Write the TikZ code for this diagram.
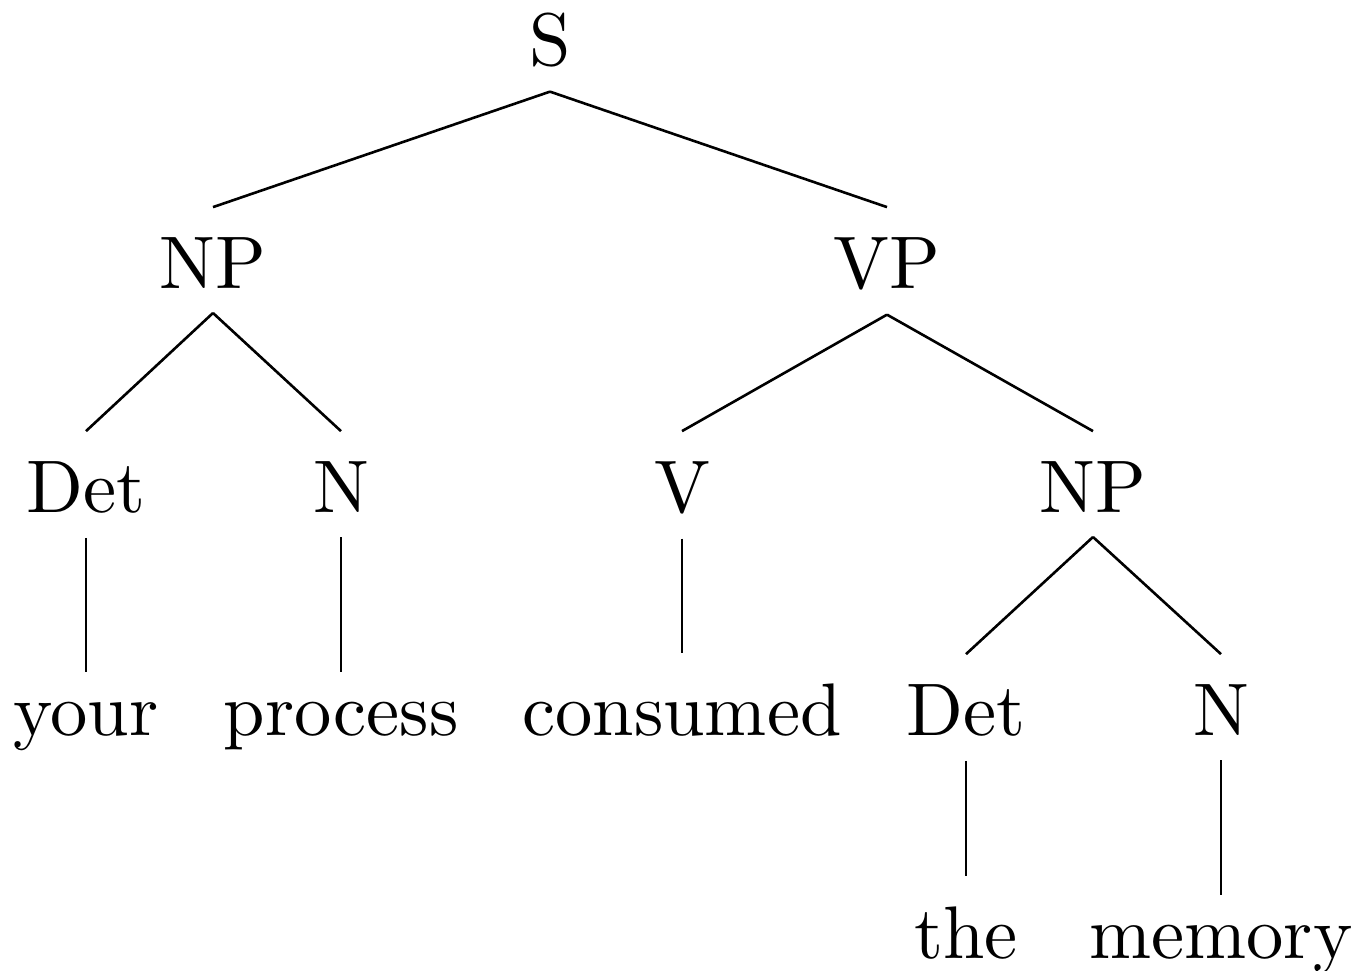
\documentclass[tikz,border=0pt]{standalone}
\usepackage{fontspec}
\newfontfamily\lmten{lmroman10-regular.otf}
\begin{document}
\begin{tikzpicture}[x=1pt,y=-1pt,
  lbl/.style={anchor=base,inner sep=0pt,outer sep=0pt,font=\lmten\fontsize{74.5}{80}\selectfont},
  edge/.style={line width=2.6pt}]
\useasboundingbox (0,0) rectangle (1358,970);
\node[lbl] (S) at (550,65) {S};
\node[lbl] (NP) at (213,288) {NP};
\node[lbl] (VP) at (887,288) {VP};
\node[lbl] (Det) at (86,512) {Det};
\node[lbl] (N) at (341,512) {N};
\node[lbl] (V) at (682,512) {V};
\node[lbl] (NPb) at (1093,512) {NP};
\node[lbl] (your) at (86,735) {your};
\node[lbl] (process) at (341,735) {process};
\node[lbl] (consumed) at (682,735) {consumed};
\node[lbl] (Detb) at (966,735) {Det};
\node[lbl] (Nb) at (1221,735) {N};
\node[lbl] (the) at (966,958) {the};
\node[lbl] (memory) at (1221,958) {memory};
\foreach \a/\b in {S/NP,S/VP,NP/Det,NP/N,VP/V,VP/NPb,Det/your,N/process,V/consumed,NPb/Detb,NPb/Nb,Detb/the,Nb/memory}
  \draw[edge] ([yshift=-25pt]\a.south) -- ([yshift=30pt]\b.north);
\end{tikzpicture}
\end{document}
